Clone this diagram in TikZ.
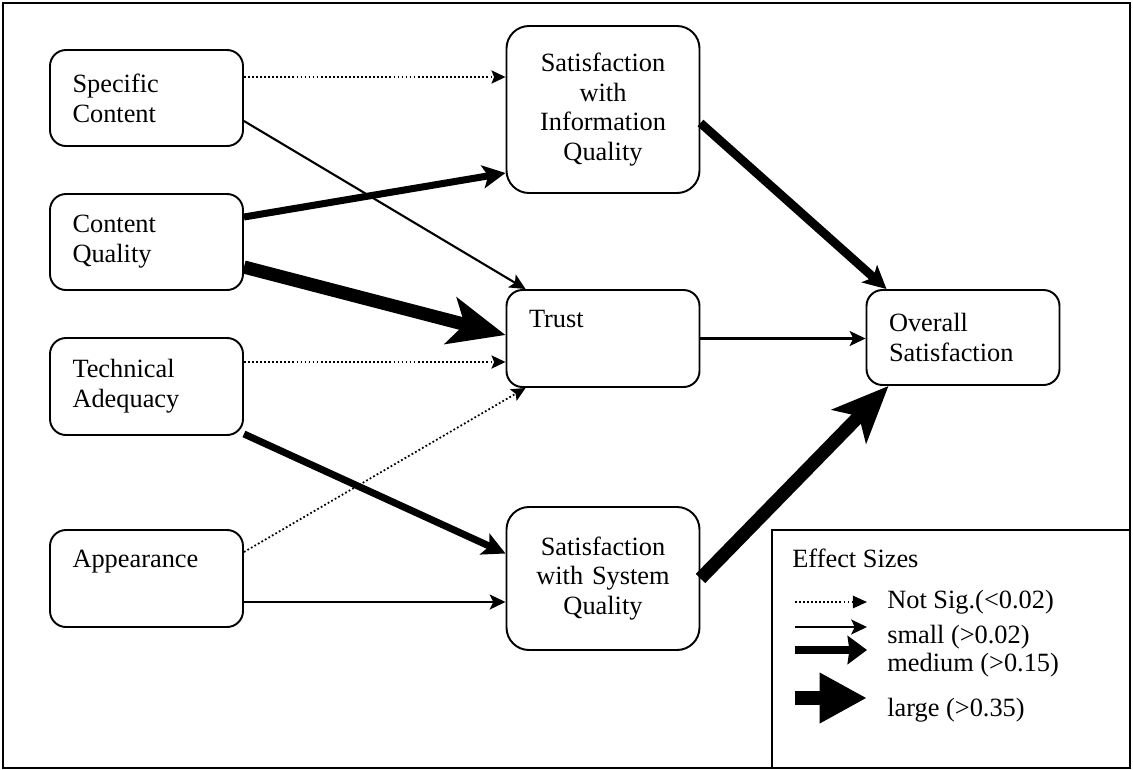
\documentclass[tikz,border=0pt]{standalone}
\usepackage{fontspec}
\setmainfont{Liberation Serif}
\usetikzlibrary{arrows.meta}

\tikzset{
  box/.style={draw, line width=1.1pt, rounded corners=0.32cm,
    minimum width=3.86cm, minimum height=1.92cm,
    text width=2.96cm, inner xsep=0.45cm, align=left,
    font=\fontsize{15}{17}\selectfont},
  cbox/.style={box, align=center, rounded corners=0.45cm},
  notsig/.style={line width=1pt, dash pattern=on 1pt off 1.3pt,
    -{Stealth[length=8pt, width=7.5pt, inset=1.5pt]}},
  effsmall/.style={line width=1.2pt,
    -{Stealth[length=9pt, width=8.5pt, inset=2pt]}},
  effmedium/.style={line width=4pt,
    -{Stealth[length=13pt, width=13pt, inset=3pt]}},
  efflarge/.style={line width=7.5pt,
    -{Stealth[length=32pt, width=27pt, inset=8pt]}},
  keytext/.style={anchor=west, inner sep=0pt,
    font=\fontsize{15}{17}\selectfont},
}

\begin{document}
\begin{tikzpicture}

\useasboundingbox (0,0) rectangle (22.66,-15.38);

% ---------------------------------------------------------
% marco
% ---------------------------------------------------------
\draw[line width=1.2pt] (0.06,-0.06) rectangle (22.6,-15.36);

% ---------------------------------------------------------
% bloques
% ---------------------------------------------------------
\node[box] (sc) at (2.93,-1.96) {Specific\\Content};
\node[box] (cq) at (2.93,-4.84) {Content\\Quality};
\node[box, minimum height=1.94cm] (ta) at (2.93,-7.73) {Technical\\Adequacy};
\node[box, minimum height=1.94cm] (ap) at (2.93,-11.57) {Appearance\\\strut};

\node[cbox, minimum width=3.84cm, minimum height=3.34cm] (iq) at (12.06,-2.19)
    {Satisfaction\\with\\Information\\Quality};
\node[box, minimum width=3.84cm, minimum height=1.94cm] (tr) at (12.06,-6.77)
    {Trust\\\strut};
\node[cbox, minimum width=3.84cm, minimum height=2.86cm] (sq) at (12.06,-11.57)
    {Satisfaction\\with System\\Quality};

\node[box, minimum width=3.84cm, minimum height=1.9cm] (os) at (19.26,-6.75)
    {Overall\\Satisfaction};

% ---------------------------------------------------------
% efectos
% ---------------------------------------------------------
\draw[notsig] ([yshift=0.42cm]sc.east) -- ([yshift=0.42cm]sc.east -| iq.west);
\draw[effsmall] ([yshift=-0.46cm]sc.east) -- ([xshift=0.4cm]tr.north west);

\draw[effmedium] ([yshift=0.5cm]cq.east) -- ([yshift=0.42cm]iq.south west);
\draw[efflarge] ([yshift=-0.5cm]cq.east) -- ([yshift=0.07cm]tr.west);

\draw[notsig] ([yshift=0.49cm]ta.east) -- ([yshift=0.49cm]ta.east -| tr.west);
\draw[effmedium] ([yshift=0.04cm]ta.south east) -- ([yshift=0.5cm]sq.west);

\draw[notsig] ([yshift=0.53cm]ap.east) -- ([xshift=0.4cm]tr.south west);
\draw[effsmall] ([yshift=-0.47cm]ap.east) -- ([yshift=-0.47cm]ap.east -| sq.west);

\draw[effmedium, line width=5pt] ([yshift=-0.27cm]iq.east) -- ([xshift=0.42cm]os.north west);
\draw[effsmall] (tr.east) -- (tr.east -| os.west);
\draw[efflarge] (sq.east) -- ([xshift=0.46cm]os.south west);

% ---------------------------------------------------------
% leyenda
% ---------------------------------------------------------
\node[draw, line width=1.1pt, minimum width=7.16cm, minimum height=4.76cm,
      inner sep=0pt] (key) at (19.02,-12.98) {};
\node[keytext] (keytitle) at (15.84,-11.16) {Effect Sizes};

\coordinate (k1a) at (15.9,-12.04);  \coordinate (k1b) at (17.34,-12.04);
\coordinate (k2a) at (15.9,-12.54);  \coordinate (k2b) at (17.34,-12.54);
\coordinate (k3a) at (15.9,-13.0);   \coordinate (k3b) at (17.34,-13.0);
\coordinate (k4a) at (15.9,-13.96);  \coordinate (k4b) at (17.34,-13.96);

\draw[notsig, -{Triangle[length=8pt, width=7pt]}] (k1a) -- (k1b);
\draw[effsmall] (k2a) -- (k2b);
\draw[line width=4.5pt, -{Triangle[length=11pt, width=16pt, inset=1pt]}] (k3a) -- (k3b);
\draw[line width=8.5pt, -{Triangle[length=27pt, width=27pt]}] (k4a) -- (k4b);

\node[keytext] (k1) at (17.74,-12.04) {Not Sig.(<0.02)};
\node[keytext] (k2) at (17.74,-12.74) {small (>0.02)};
\node[keytext] (k3) at (17.74,-13.3) {medium (>0.15)};
\node[keytext] (k4) at (17.74,-14.2) {large (>0.35)};

\end{tikzpicture}
\end{document}
